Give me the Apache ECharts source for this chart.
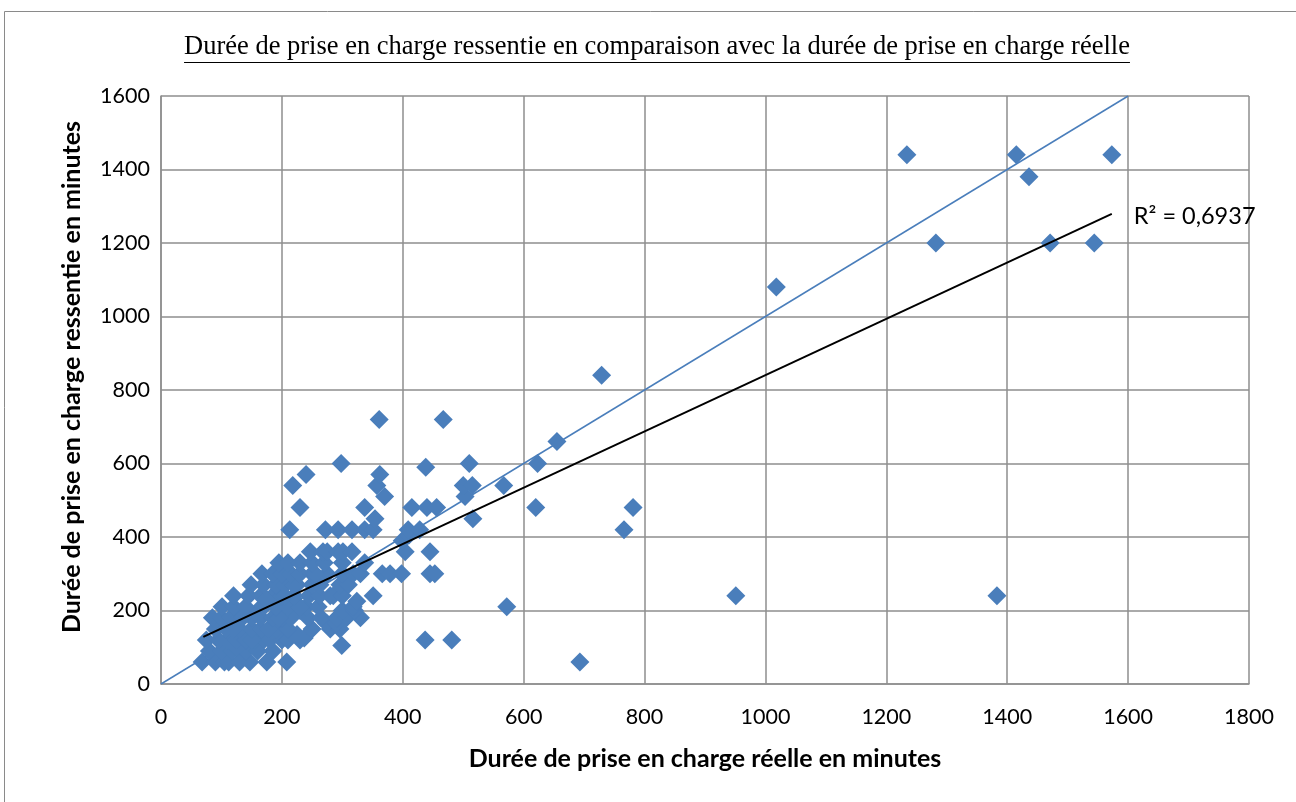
<!DOCTYPE html>
<html>
<head>
<meta charset="utf-8">
<script src="https://cdn.jsdelivr.net/npm/echarts@6/dist/echarts.min.js"></script>
<style>
  html, body { margin: 0; padding: 0; background: #fff; }
  #chart { width: 1296px; height: 802px; }
</style>
</head>
<body>
<div id="chart"></div>
<script>
// Durée réelle (minutes) and durée ressentie (minutes) for each patient
const realMinutes = [
  68, 90, 105, 112, 130, 147, 175, 208,
  80, 100, 118, 140, 160, 185, 125,
  75, 95, 110, 125, 140, 155, 170, 180, 200, 230, 237, 150, 210,
  225,
  90, 108, 130, 150, 165, 190, 210, 250, 280, 296, 120, 178,
  274, 290,
  85, 100, 115, 130, 150, 165, 185, 200, 215, 243, 265, 291, 307, 330, 135, 195,
  300, 320, 160, 230,
  101, 120, 140, 170, 190, 210, 240, 260, 318, 230,
  324,
  120, 145, 165, 185, 200, 220, 245, 262, 280, 285, 300, 351, 175, 205,
  149, 170, 190, 205, 225, 263, 296, 310, 220, 250,
  167, 185, 200, 215, 230, 250, 275, 300, 318, 330, 366, 379, 398, 445, 453, 255,
  195, 210, 230, 250, 300, 337, 270,
  247, 268, 275, 293, 301, 316, 404, 445,
  399, 410,
  213, 272, 293, 316, 337, 351, 409, 428, 766,
  354, 516,
  230, 337, 415, 440, 456, 620, 781,
  370, 503,
  218, 357, 500, 515, 567,
  240, 362,
  438,
  298, 510, 623,
  655,
  361, 467,
  729,
  1018,
  1282, 1471, 1544,
  1436,
  1234, 1415, 1573,
  951, 1383,
  572,
  437, 481,
  693,
  299
];
const perceivedMinutes = [
  60, 60, 60, 60, 60, 60, 60, 60,
  90, 90, 90, 90, 90, 90, 100,
  120, 120, 120, 120, 120, 120, 120, 120, 120, 120, 125, 120, 120,
  135,
  150, 150, 150, 150, 150, 150, 150, 150, 150, 150, 150, 150,
  165, 165,
  180, 180, 180, 180, 180, 180, 180, 180, 180, 180, 180, 180, 180, 180, 180, 180,
  200, 200, 200, 200,
  210, 210, 210, 210, 210, 210, 210, 210, 210, 210,
  225,
  240, 240, 240, 240, 240, 240, 240, 240, 240, 240, 240, 240, 230, 240,
  270, 270, 270, 270, 270, 270, 270, 270, 270, 270,
  300, 300, 300, 300, 300, 300, 300, 300, 300, 300, 300, 300, 300, 300, 300, 300,
  330, 330, 330, 330, 330, 330, 330,
  360, 360, 360, 360, 360, 360, 360, 360,
  390, 405,
  420, 420, 420, 420, 420, 420, 420, 420, 420,
  450, 450,
  480, 480, 480, 480, 480, 480, 480,
  510, 510,
  540, 540, 540, 540, 540,
  570, 570,
  590,
  600, 600, 600,
  660,
  720, 720,
  840,
  1080,
  1200, 1200, 1200,
  1380,
  1440, 1440, 1440,
  240, 240,
  210,
  120, 120,
  60,
  105
];

// Reference line: perceived = real
const identityLine = [[0, 0], [1600, 1600]];
// Linear trend line end points and its fit quality
const trendLine = [[70, 128], [1573, 1279]];
const rSquaredLabel = 'R² = 0,6937';

const xTicks = [0, 200, 400, 600, 800, 1000, 1200, 1400, 1600, 1800];
const yTicks = [0, 200, 400, 600, 800, 1000, 1200, 1400, 1600];

const titleText = 'Durée de prise en charge ressentie en comparaison avec la durée de prise en charge réelle';
const xName = 'Durée de prise en charge réelle en minutes';
const yName = 'Durée de prise en charge ressentie en minutes';

const points = realMinutes.map((x, i) => [x, perceivedMinutes[i]]);

const chart = echarts.init(document.getElementById('chart'), null, { renderer: 'canvas' });

const gridColor = '#8e8e8e';
const titleFont = '26.5px "Liberation Serif"';
const ctx = document.createElement('canvas').getContext('2d');
ctx.font = titleFont;
const titleWidth = ctx.measureText(titleText).width;
const titleCenter = 657;

chart.setOption({
  animation: false,
  backgroundColor: '#fff',
  grid: { left: 161, right: 47, top: 96, bottom: 118, containLabel: false },
  xAxis: {
    type: 'value', min: 0, max: 1800, interval: 200,
    name: xName, nameLocation: 'middle', nameGap: 62,
    nameTextStyle: { fontFamily: 'Lato', fontWeight: 'bold', fontSize: 25, color: '#000' },
    axisLine: { show: true, lineStyle: { color: gridColor, width: 1.5 } },
    axisTick: { show: false },
    axisLabel: { fontFamily: 'Lato', fontSize: 21.5, color: '#000', margin: 22,
      formatter: v => xTicks.includes(v) ? String(v) : '' },
    splitLine: { show: true, lineStyle: { color: gridColor, width: 1.5 } }
  },
  yAxis: {
    type: 'value', min: 0, max: 1600, interval: 200,
    name: yName, nameLocation: 'middle', nameGap: 77, nameRotate: 90,
    nameTextStyle: { fontFamily: 'Lato', fontWeight: 'bold', fontSize: 25, color: '#000', padding: [0, 0, 0, 26] },
    axisLine: { show: true, lineStyle: { color: gridColor, width: 1.5 } },
    axisTick: { show: false },
    axisLabel: { fontFamily: 'Lato', fontSize: 21.5, color: '#000', margin: 11,
      formatter: v => yTicks.includes(v) ? String(v) : '' },
    splitLine: { show: true, lineStyle: { color: gridColor, width: 1.5 } }
  },
  series: [
    {
      type: 'line', data: identityLine, showSymbol: false, symbol: 'none',
      lineStyle: { color: '#4a7ebb', width: 1.5 }, z: 1, silent: true
    },
    {
      type: 'scatter', data: points, symbol: 'diamond', symbolSize: 19,
      itemStyle: { color: '#4a7ebb', opacity: 1 }, z: 2
    },
    {
      type: 'line', data: trendLine, showSymbol: false, symbol: 'none',
      lineStyle: { color: '#000', width: 2 }, z: 3, silent: true,
      endLabel: { show: true, formatter: rSquaredLabel, fontFamily: 'Lato', fontSize: 23.5,
        color: '#000', offset: [14, 2] }
    }
  ],
  graphic: [
    { type: 'rect', shape: { x: 4.5, y: 11.5, width: 1300, height: 800 },
      style: { fill: 'none', stroke: '#8a8a8a', lineWidth: 1 }, silent: true },
    { type: 'text', x: titleCenter, y: 47,
      style: { text: titleText, font: titleFont, fill: '#000', textAlign: 'center', textVerticalAlign: 'middle' } },
    { type: 'line', shape: { x1: titleCenter - titleWidth / 2, y1: 62.5, x2: titleCenter + titleWidth / 2, y2: 62.5 },
      style: { stroke: '#000', lineWidth: 1.2 } }
  ]
});
</script>
</body>
</html>
